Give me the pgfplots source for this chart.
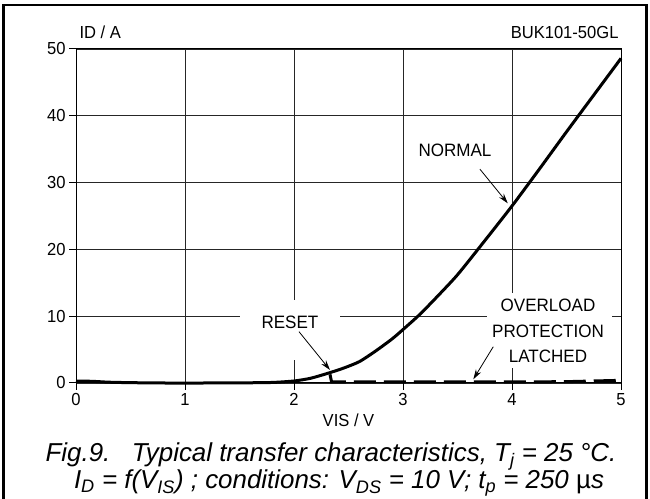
\documentclass[border=0pt]{standalone}
\usepackage{fontspec}
\setmainfont{Liberation Sans}
\newfontfamily\narrowfont[FakeStretch=0.95]{Liberation Sans}
\usepackage{pgfplots}
\pgfplotsset{compat=1.18}
\usetikzlibrary{arrows.meta}
\begin{document}
\begin{tikzpicture}[x=1bp,y=1bp]
\useasboundingbox (0,0) rectangle (650,499);
\draw[line width=2.5bp] (3.5,0) -- (3.5,494) -- (646.5,494) -- (646.5,0);
\begin{axis}[
  at={(76bp,116bp)}, anchor=south west,
  scale only axis, width=545bp, height=334bp,
  xmin=0,xmax=5,ymin=0,ymax=50,
  xtick={0,1,2,3,4,5}, ytick={0,10,20,30,40,50},
  grid=major, major grid style={line width=0.8bp, black!85},
  axis line style={line width=1bp},
  tick align=outside, tick pos=left, major tick length=7bp,
  tick style={line width=1bp, black},
  ticklabel style={font=\narrowfont\fontsize{17.5}{20}\selectfont},
  /pgf/number format/assume math mode=true,
  clip=false,
]
% white label backgrounds interrupting grid
\fill[white] (axis cs:1.505,3.4) rectangle (axis cs:2.42,12.4);
\fill[white] (axis cs:3.77,2.25) rectangle (axis cs:4.92,13.5);
\node[font=\narrowfont\fontsize{18}{20}\selectfont] at (axis cs:1.963,9.1) {RESET};
\node[font=\narrowfont\fontsize{18}{26}\selectfont, align=center] at (axis cs:4.33,7.8) {OVERLOAD\\PROTECTION\\LATCHED};
\node[font=\narrowfont\fontsize{18}{20}\selectfont] at (axis cs:3.477,34.9) {NORMAL};
% normal curve
\addplot[black, line width=3bp, line join=round, smooth, tension=0.4] coordinates {
(0,0.3)(0.15,0.25)(0.3,0.12)(0.5,0.05)(0.8,0.0)(1.2,0.0)(1.5,0.02)(1.8,0.08)
(2.0,0.3)(2.15,0.7)(2.3,1.4)(2.45,2.2)(2.6,3.2)(2.75,4.8)(2.9,6.6)(3.0,8.0)
(3.15,10.2)(3.3,12.7)(3.5,16.2)(3.75,21.3)(4.0,26.5)(4.25,32.0)(4.5,37.6)
(4.75,43.1)(5.0,48.6)};
% overload protection latched
\addplot[black, line width=3bp, dash pattern=on 22bp off 8bp] coordinates {
(2.33,1.3)(2.345,0.15)(3,0.15)(4,0.15)(4.5,0.2)(5,0.4)};
% arrows
\draw[line width=0.8bp, -{Stealth[length=10bp,width=6bp]}] (axis cs:2.046,7.68) -- (axis cs:2.330,1.95);
\draw[line width=0.8bp, -{Stealth[length=10bp,width=6bp]}] (axis cs:3.828,5.43) -- (axis cs:3.645,0.55);
\draw[line width=0.8bp, -{Stealth[length=10bp,width=6bp]}] (axis cs:3.706,32.0) -- (axis cs:3.961,26.9);
\end{axis}
\node[anchor=base west, font=\narrowfont\fontsize{17.5}{20}\selectfont] at (76,460) {ID / A};
\node[anchor=base east, font=\narrowfont\fontsize{17.5}{20}\selectfont] at (622,460) {BUK101-50GL};
\node[anchor=base, font=\narrowfont\fontsize{17.5}{20}\selectfont] at (348.5,72) {VIS / V};
\node[anchor=base, font=\itshape\fontsize{26}{24}\selectfont] at (331,37) {Fig.9.\ \ \ Typical transfer characteristics, T\textsubscript{j} = 25 °C.};
\node[anchor=base, font=\itshape\fontsize{26}{24}\selectfont] at (339,10) {I\textsubscript{D} = f(V\textsubscript{IS}) ; conditions: V\textsubscript{DS} = 10 V; t\textsubscript{p} = 250 {\upshape µ}s};
\end{tikzpicture}
\end{document}
